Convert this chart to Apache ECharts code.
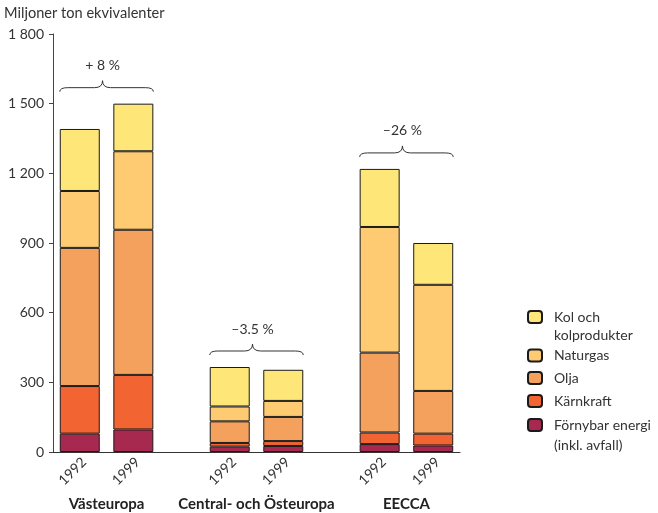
<!DOCTYPE html>
<html>
<head>
<meta charset="utf-8">
<script src="https://cdn.jsdelivr.net/npm/echarts@6/dist/echarts.min.js"></script>
<style>
  html, body { margin: 0; padding: 0; background: #fff; }
  #chart { width: 658px; height: 513px; }
</style>
</head>
<body>
<div id="chart"></div>
<script>
// Energy use by source, million tonnes equivalent, per region and year
const years = ['1992', '1999'];
const regions = ['Västeuropa', 'Central- och Östeuropa', 'EECCA'];
const changeLabels = ['+ 8 %', '–3.5 %', '–26 %'];

// Values in order: Västeuropa 1992, 1999, Central- och Östeuropa 1992, 1999, EECCA 1992, 1999
const fornybar  = [79, 97, 23, 26, 34, 28];
const karnkraft = [205, 235, 16, 21, 50, 51];
const olja      = [595, 625, 93, 104, 344, 184];
const naturgas  = [245, 338, 64, 69, 541, 457];
const kol       = [267, 205, 170, 134, 250, 180];

const yTicks = [0, 300, 600, 900, 1200, 1500, 1800];

const seriesDefs = [
  { name: 'Förnybar energi\n(inkl. avfall)', data: fornybar,  color: '#a8294f' },
  { name: 'Kärnkraft',                        data: karnkraft, color: '#f26431' },
  { name: 'Olja',                             data: olja,      color: '#f5a15e' },
  { name: 'Naturgas',                         data: naturgas,  color: '#fecb72' },
  { name: 'Kol och\nkolprodukter',            data: kol,       color: '#ffe679' }
];

// The x axis is split into narrow slots: each bar spans 5 slots, groups are separated by 4
const SLOTS_PER_BAR = 5;
const GROUP_GAP = 4;
const GROUP_SPAN = years.length * SLOTS_PER_BAR + GROUP_GAP;
const TOTAL_SLOTS = regions.length * GROUP_SPAN - GROUP_GAP;
const BAR_WIDTH = 40;
const FONT = 'Lato, "Open Sans", sans-serif';
const TEXT = '#333';

const barSlot = (g, y) => g * GROUP_SPAN + y * SLOTS_PER_BAR + Math.floor(SLOTS_PER_BAR / 2);

const slotLabels = new Array(TOTAL_SLOTS).fill('');
const tickSlots = new Set();
regions.forEach((r, g) => {
  years.forEach((yr, y) => {
    slotLabels[barSlot(g, y)] = yr;
    tickSlots.add(g * GROUP_SPAN + y * SLOTS_PER_BAR);
  });
  tickSlots.add(g * GROUP_SPAN + years.length * SLOTS_PER_BAR);
});

// Region names sit at the group centres on a point-based axis
const groupLabels = new Array(TOTAL_SLOTS + 1).fill('');
regions.forEach((r, g) => {
  groupLabels[g * GROUP_SPAN + (years.length * SLOTS_PER_BAR) / 2] = r;
});

function toSlots(values) {
  const out = new Array(TOTAL_SLOTS).fill('-');
  values.forEach((v, i) => {
    out[barSlot(Math.floor(i / years.length), i % years.length)] = v;
  });
  return out;
}

const totals = fornybar.map((_, i) => seriesDefs.reduce((s, d) => s + d.data[i], 0));
const braceData = regions.map((r, g) => [
  barSlot(g, 0),
  barSlot(g, years.length - 1),
  Math.max(...totals.slice(g * years.length, (g + 1) * years.length))
]);

const barSeries = seriesDefs.map(d => ({
  name: d.name,
  type: 'bar',
  stack: 'total',
  barWidth: BAR_WIDTH,
  data: toSlots(d.data),
  itemStyle: { color: d.color, borderColor: '#1a1a1a', borderWidth: 1 },
  emphasis: { disabled: true }
}));

const braceSeries = {
  type: 'custom',
  name: 'change',
  z: 5,
  encode: { x: [0, 1], y: 2 },
  data: braceData,
  renderItem: function (params, api) {
    const a = api.coord([api.value(0), api.value(2)]);
    const b = api.coord([api.value(1), api.value(2)]);
    const L = a[0] - BAR_WIDTH / 2;
    const R = b[0] + BAR_WIDTH / 2;
    const M = (L + R) / 2 - 4;
    const t = a[1] - 12;
    const h = t - 4;
    const p = t - 11;
    const d = 'M' + L + ',' + t +
      ' Q' + L + ',' + h + ' ' + (L + 8) + ',' + h +
      ' L' + (M - 8) + ',' + h +
      ' Q' + M + ',' + h + ' ' + M + ',' + p +
      ' Q' + M + ',' + h + ' ' + (M + 8) + ',' + h +
      ' L' + (R - 8) + ',' + h +
      ' Q' + R + ',' + h + ' ' + R + ',' + t;
    return {
      type: 'group',
      children: [
        { type: 'path', shape: { pathData: d }, style: { stroke: '#333', lineWidth: 1, fill: null } },
        { type: 'text', style: {
            text: changeLabels[params.dataIndex], x: M, y: p - 15,
            align: 'center', verticalAlign: 'middle',
            fill: TEXT, fontSize: 14, fontFamily: FONT } }
      ]
    };
  }
};

// One legend block per entry; a two-line entry gets an empty leading line so
// its swatch lines up with the first line of text
function legendBlock(name, top, lineHeight) {
  const lines = name.split('\n');
  return {
    data: [name],
    orient: 'vertical',
    left: 527,
    top: top,
    padding: 0,
    itemWidth: 14,
    itemHeight: 12,
    selectedMode: false,
    formatter: () => (lines.length > 1 ? '\n' : '') + lines.map(l => '{t|' + l + '}').join('\n'),
    textStyle: {
      fontFamily: FONT, fontSize: 14, color: TEXT, lineHeight: lineHeight,
      rich: { t: { fontFamily: FONT, fontSize: 14, color: TEXT, lineHeight: lineHeight, padding: [0, 0, 0, 7] } }
    }
  };
}

const chart = echarts.init(document.getElementById('chart'), null, { renderer: 'canvas' });
chart.setOption({
  animation: false,
  title: {
    text: 'Miljoner ton ekvivalenter',
    left: 4, top: 6, padding: 0,
    textStyle: { fontFamily: FONT, fontSize: 14.6, fontWeight: 'normal', color: TEXT }
  },
  legend: [
    legendBlock(seriesDefs[4].name, 290, 18),
    legendBlock(seriesDefs[3].name, 346.5, 18),
    legendBlock(seriesDefs[2].name, 369, 18),
    legendBlock(seriesDefs[1].name, 392, 18),
    legendBlock(seriesDefs[0].name, 395, 20)
  ],
  grid: { left: 53, right: 198, top: 34, bottom: 61, containLabel: false },
  xAxis: [
    {
      type: 'category',
      position: 'bottom',
      data: slotLabels,
      boundaryGap: true,
      axisLine: { lineStyle: { color: '#333', width: 1 } },
      axisTick: { length: 5, lineStyle: { color: '#333' }, interval: (i) => tickSlots.has(i) },
      axisLabel: {
        interval: 0, rotate: 45, margin: 12, padding: [0, -6, 0, 0],
        fontFamily: FONT, fontSize: 14, color: TEXT
      }
    },
    {
      type: 'category',
      position: 'bottom',
      offset: 0,
      data: groupLabels,
      boundaryGap: false,
      axisLine: { show: false },
      axisTick: { show: false },
      axisLabel: { interval: 0, margin: 45, fontFamily: FONT, fontSize: 15, fontWeight: 'bold', color: '#222' }
    }
  ],
  yAxis: {
    type: 'value',
    min: yTicks[0],
    max: yTicks[yTicks.length - 1],
    interval: yTicks[1] - yTicks[0],
    axisLine: { show: true, lineStyle: { color: '#444', width: 1 } },
    axisTick: { show: true, length: 4, lineStyle: { color: '#444' } },
    splitLine: { show: false },
    axisLabel: {
      margin: 9, fontFamily: FONT, fontSize: 14, color: TEXT,
      formatter: v => v >= 1000 ? Math.floor(v / 1000) + ' ' + String(v % 1000).padStart(3, '0') : String(v)
    }
  },
  series: barSeries.concat([braceSeries])
});
</script>
</body>
</html>
